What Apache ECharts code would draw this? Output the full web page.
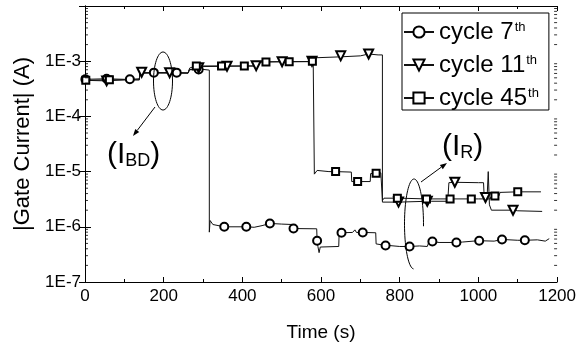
<!DOCTYPE html>
<html><head><meta charset="utf-8">
<script src="https://cdn.jsdelivr.net/npm/echarts@6/dist/echarts.min.js"></script>
<style>html,body{margin:0;padding:0;background:#fff}#c{width:579px;height:347px}</style>
</head><body><div id="c"></div>
<script>
// ---- data (time in s, |gate current| in A) ----
const seriesNames = ['cycle 7', 'cycle 11', 'cycle 45'];
const xTickLabels = [0, 200, 400, 600, 800, 1000, 1200];

const c7Line = [[0,4.7e-4],[60,4.8e-4],[100,4.7e-4],[138,4.8e-4],[140,6.1e-4],[200,6.2e-4],[262,6.1e-4],[266,7.0e-4],[300,7.1e-4],[316,6.9e-4],[316,8.0e-7],[318,1.3e-6],[325,1.1e-6],[360,1.0e-6],[400,1.0e-6],[430,0.98e-6],[450,1.05e-6],[470,1.15e-6],[500,1.12e-6],[527,1.1e-6],[528,9.3e-7],[589,9.2e-7],[592,4.4e-7],[595,3.4e-7],[598,4.3e-7],[645,4.4e-7],[646,7.8e-7],[680,7.9e-7],[686,8.8e-7],[690,7.9e-7],[739,7.8e-7],[740,4.9e-7],[770,4.6e-7],[800,4.4e-7],[850,4.5e-7],[870,4.4e-7],[875,5.5e-7],[900,5.2e-7],[960,5.3e-7],[1000,5.6e-7],[1040,5.5e-7],[1060,5.9e-7],[1100,5.7e-7],[1150,5.8e-7],[1170,5.5e-7],[1180,6.1e-7]];
const c7Marks = [[1,4.7e-4],[55,4.8e-4],[114,4.7e-4],[175,6.2e-4],[233,6.2e-4],[289,7.1e-4],[354,1.0e-6],[410,1.0e-6],[470,1.15e-6],[530,9.3e-7],[590,5.6e-7],[652,7.8e-7],[706,7.9e-7],[764,4.6e-7],[825,4.4e-7],[883,5.4e-7],[944,5.2e-7],[1002,5.6e-7],[1060,5.9e-7],[1118,5.7e-7]];

const c11Line = [[0,4.5e-4],[60,4.4e-4],[100,4.6e-4],[138,4.6e-4],[140,6.2e-4],[210,6.2e-4],[262,6.1e-4],[265,7.0e-4],[290,7.4e-4],[300,8.0e-4],[435,8.2e-4],[440,9.7e-4],[577,9.8e-4],[580,1.15e-3],[650,1.2e-3],[700,1.25e-3],[745,1.3e-3],[756,1.3e-3],[756,2.8e-6],[800,2.7e-6],[880,2.9e-6],[922,2.9e-6],[925,6.3e-6],[1000,6.3e-6],[1013,6.3e-6],[1015,3.2e-6],[1022,3.3e-6],[1025,1.0e-5],[1028,2.5e-6],[1033,2.0e-6],[1100,1.95e-6],[1162,1.9e-6]];
const c11Marks = [[55,4.4e-4],[144,6.3e-4],[215,6.2e-4],[289,7.6e-4],[361,8.1e-4],[435,8.3e-4],[501,9.8e-4],[577,1.0e-3],[650,1.25e-3],[721,1.35e-3],[797,2.8e-6],[870,2.9e-6],[940,6.4e-6],[1018,3.4e-6],[1088,2.0e-6]];

const c45Line = [[0,4.5e-4],[60,4.6e-4],[138,4.6e-4],[140,6.1e-4],[262,6.1e-4],[266,7.5e-4],[280,8.2e-4],[400,8.2e-4],[435,8.2e-4],[440,9.7e-4],[577,9.9e-4],[580,1.1e-3],[582,1.1e-3],[583,9.0e-6],[590,1.05e-5],[620,1.0e-5],[640,1.02e-5],[677,9.8e-6],[678,6.6e-6],[725,6.6e-6],[726,9.2e-6],[752,9.5e-6],[756,3.0e-6],[760,3.3e-6],[800,3.3e-6],[880,3.2e-6],[1000,3.2e-6],[1030,3.2e-6],[1032,3.5e-6],[1052,3.6e-6],[1055,4.2e-6],[1100,4.3e-6],[1159,4.3e-6]];
const c45Marks = [[2,4.5e-4],[62,4.6e-4],[283,8.2e-4],[347,8.2e-4],[405,8.2e-4],[460,9.7e-4],[519,9.8e-4],[578,1.0e-3],[637,1.0e-5],[693,6.6e-6],[740,9.3e-6],[794,3.3e-6],[868,3.2e-6],[928,3.2e-6],[982,3.2e-6],[1042,3.6e-6],[1100,4.3e-6]];

// minor tick positions of the log axis (2..9 x 10^e)
const minorMant = [2,3,4,5,6,7,8,9];
const decades = [-7,-6,-5,-4,-3];

function merge(line, marks) {
  const items = line.map(p => ({ value: p, k: 0 }));
  marks.forEach(p => items.push({ value: p, k: 1 }));
  items.sort((a, b) => a.value[0] - b.value[0] || a.k - b.k);
  return items.map(it => it.k ? { value: it.value } : { value: it.value, symbol: 'none' });
}

const minorVals = [];
decades.forEach(e => minorMant.forEach(m => minorVals.push(m * Math.pow(10, e))));

function arrow(x1, y1, x2, y2) {
  const dx = x2 - x1, dy = y2 - y1, L = Math.hypot(dx, dy);
  const ux = dx / L, uy = dy / L, len = 7, w = 2.5;
  const bx = x2 - ux * len, by = y2 - uy * len;
  return [
    { type: 'line', silent: true, shape: { x1, y1, x2: bx, y2: by }, style: { stroke: '#000', lineWidth: 1 }, z: 10 },
    { type: 'polygon', silent: true, shape: { points: [[x2, y2], [bx - uy * w, by + ux * w], [bx + uy * w, by - ux * w]] }, style: { fill: '#000' }, z: 10 }
  ];
}

// open loop (ellipse without its lower-right quarter), as polyline points
function openLoop(cx, cy, rx, ry) {
  const pts = [];
  for (let a = -0.05; a <= 1.5 * Math.PI + 0.001; a += Math.PI / 40) {
    pts.push([cx + rx * Math.cos(a), cy - ry * Math.sin(a)]);
  }
  return pts;
}

const FONT = 'Liberation Sans';
const chart = echarts.init(document.getElementById('c'), null, { renderer: 'canvas' });

const lineCommon = {
  type: 'line', showSymbol: true, showAllSymbol: true, symbolSize: 8,
  lineStyle: { color: '#111', width: 1 },
  itemStyle: { color: '#000', borderWidth: 1 },
  emphasis: { disabled: true }, z: 3
};

const option = {
  animation: false,
  backgroundColor: '#fff',
  textStyle: { fontFamily: FONT },
  grid: { left: 85, right: 20, top: 6, bottom: 65, containLabel: false },
  legend: {
    data: seriesNames,
    left: 402, top: 13, orient: 'vertical',
    padding: [7, 10, 0, 1], itemGap: 9, itemWidth: 30, itemHeight: 14,
    borderColor: '#000', borderWidth: 1, borderRadius: 0,
    selectedMode: false,
    formatter: n => '{n|' + n + '}{s|th}',
    textStyle: {
      fontFamily: FONT, color: '#000',
      rich: {
        n: { fontSize: 24, lineHeight: 24, fontFamily: FONT, color: '#000' },
        s: { fontSize: 13, lineHeight: 24, padding: [0, 0, 10, 1], fontFamily: FONT, color: '#000' }
      }
    }
  },
  xAxis: [{
    type: 'value', min: 0, max: 1200, interval: 200,
    name: 'Time (s)', nameLocation: 'middle', nameGap: 41,
    nameTextStyle: { fontSize: 19, color: '#000', fontFamily: FONT },
    axisLine: { lineStyle: { color: '#000', width: 1 } },
    axisTick: { inside: true, length: 5, lineStyle: { color: '#000' } },
    minorTick: { show: true, splitNumber: 2, length: 3, lineStyle: { color: '#000' } },
    axisLabel: { fontSize: 17, color: '#000', margin: 6, fontFamily: FONT,
      formatter: v => xTickLabels.indexOf(v) >= 0 ? String(v) : '' },
    splitLine: { show: false }
  }, {
    type: 'value', min: 0, max: 1200, interval: 200, position: 'top',
    axisLine: { lineStyle: { color: '#000', width: 1 } },
    axisTick: { inside: true, length: 5, lineStyle: { color: '#000' } },
    minorTick: { show: true, splitNumber: 2, length: 3, lineStyle: { color: '#000' } },
    axisLabel: { show: false }, splitLine: { show: false }
  }],
  yAxis: [{
    type: 'log', logBase: 10, min: 1e-7, max: 1e-2,
    name: '|Gate Current| (A)', nameLocation: 'middle', nameGap: 45,
    nameTextStyle: { fontSize: 22, color: '#000', fontFamily: FONT },
    axisLine: { show: true, lineStyle: { color: '#000', width: 1 } },
    axisTick: { show: true, inside: true, length: 6, lineStyle: { color: '#000' } },
    axisLabel: { fontSize: 17, color: '#000', margin: 4, fontFamily: FONT,
      formatter: v => { const e = Math.round(Math.log10(v)); return e === -2 ? '' : '1E' + e; } },
    splitLine: { show: false }
  }, {
    type: 'log', logBase: 10, min: 1e-7, max: 1e-2, position: 'right',
    axisLine: { show: true, lineStyle: { color: '#000', width: 1 } },
    axisTick: { show: true, inside: true, length: 6, lineStyle: { color: '#000' } },
    axisLabel: { show: false }, splitLine: { show: false }
  }],
  series: [
    Object.assign({}, lineCommon, { name: seriesNames[0], symbol: 'emptyCircle', symbolSize: 8, data: merge(c7Line, c7Marks) }),
    Object.assign({}, lineCommon, { name: seriesNames[1], symbol: 'emptyTriangle', symbolRotate: 180, symbolSize: 9, data: merge(c11Line, c11Marks) }),
    Object.assign({}, lineCommon, { name: seriesNames[2], symbol: 'emptyRect', symbolSize: 7, data: merge(c45Line, c45Marks) }),
    { type: 'scatter', silent: true, clip: false, symbol: 'rect', symbolSize: [3, 1], symbolOffset: [1.5, 0],
      itemStyle: { color: '#000' }, data: minorVals.map(v => [0, v]), z: 4 },
    { type: 'scatter', silent: true, clip: false, symbol: 'rect', symbolSize: [3, 1], symbolOffset: [-1.5, 0],
      itemStyle: { color: '#000' }, data: minorVals.map(v => [1200, v]), z: 4 }
  ],
  graphic: [
    { type: 'ellipse', silent: true, shape: { cx: 163, cy: 81, rx: 9.5, ry: 29 }, style: { fill: 'none', stroke: '#000', lineWidth: 1 }, z: 10 },
    ...arrow(155, 107, 133, 136),
    { type: 'polyline', silent: true, shape: { points: openLoop(414, 224, 9.5, 45) }, style: { fill: 'none', stroke: '#000', lineWidth: 1 }, z: 10 },
    ...arrow(421, 182, 447, 163),
    { type: 'text', silent: true, x: 107, y: 155, z: 10,
      style: { text: '{p|(I}{b|BD}{p|)}', verticalAlign: 'middle', align: 'left',
        rich: { p: { fontSize: 30, fontFamily: FONT, fill: '#000' }, b: { fontSize: 18, fontFamily: FONT, fill: '#000', padding: [12, 0, 0, 0] } } } },
    { type: 'text', silent: true, x: 442, y: 147, z: 10,
      style: { text: '{p|(I}{b|R}{p|)}', verticalAlign: 'middle', align: 'left',
        rich: { p: { fontSize: 30, fontFamily: FONT, fill: '#000' }, b: { fontSize: 18, fontFamily: FONT, fill: '#000', padding: [12, 0, 0, 0] } } } }
  ]
};
chart.setOption(option);
</script>
</body></html>
